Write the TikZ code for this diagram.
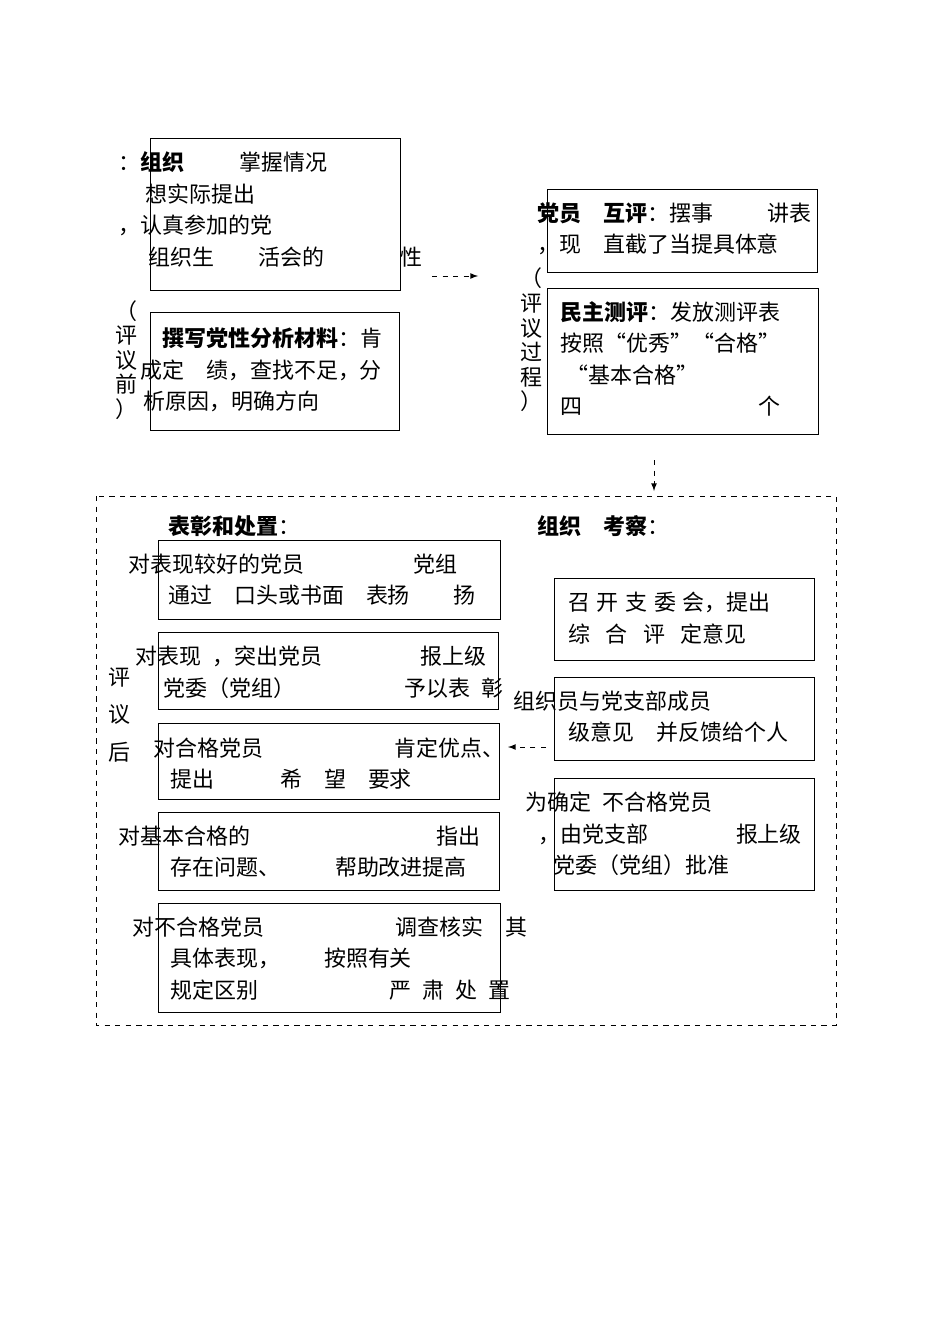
\documentclass[tikz,border=0pt]{standalone}
\usepackage{fontspec}
\newfontfamily\cjk{Noto Sans CJK SC}
\begin{document}
\begin{tikzpicture}[x=0.02cm,y=-0.02cm,
  bx/.style={draw,line width=0.6pt},
  tx/.style={anchor=west,inner sep=0pt,font=\cjk\fontsize{12.5pt}{14pt}\selectfont},
  dsh/.style={draw,dashed,line width=0.5pt,-latex}]
\useasboundingbox (0,0) rectangle (950,1344);
% boxes
\node[bx,minimum width=250*0.02cm,minimum height=152*0.02cm,anchor=north west] (A) at (150,138) {};
\node[bx,minimum width=249*0.02cm,minimum height=118*0.02cm,anchor=north west] (B) at (150,312) {};
\node[bx,minimum width=270*0.02cm,minimum height=83*0.02cm,anchor=north west] (C) at (547,189) {};
\node[bx,minimum width=271*0.02cm,minimum height=146*0.02cm,anchor=north west] (D) at (547,288) {};
\draw[dashed,line width=0.5pt] (96,496) rectangle (836,1025);
\node[bx,minimum width=342*0.02cm,minimum height=79*0.02cm,anchor=north west] (L1) at (158,540) {};
\node[bx,minimum width=340*0.02cm,minimum height=77*0.02cm,anchor=north west] (L2) at (158,632) {};
\node[bx,minimum width=341*0.02cm,minimum height=76*0.02cm,anchor=north west] (L3) at (158,723) {};
\node[bx,minimum width=341*0.02cm,minimum height=78*0.02cm,anchor=north west] (L4) at (158,812) {};
\node[bx,minimum width=342*0.02cm,minimum height=109*0.02cm,anchor=north west] (L5) at (158,903) {};
\node[bx,minimum width=260*0.02cm,minimum height=82*0.02cm,anchor=north west] (R1) at (554,578) {};
\node[bx,minimum width=260*0.02cm,minimum height=83*0.02cm,anchor=north west] (R2) at (554,677) {};
\node[bx,minimum width=260*0.02cm,minimum height=112*0.02cm,anchor=north west] (R3) at (554,778) {};
% arrows
\coordinate (a1) at (432,276); \coordinate (a2) at (478,276);
\draw[dsh] (a1) -- (a2);
\coordinate (b1) at (654,460); \coordinate (b2) at (654,491);
\draw[dsh] (b1) -- (b2);
\coordinate (c1) at (546,747); \coordinate (c2) at (508,747);
\draw[dsh] (c1) -- (c2);
% texts top-left
\node[tx] (t1) at (118,162) {：\textbf{组织}\hspace{2.5em}掌握情况};
\node[tx] (t2) at (145,194) {想实际提出};
\node[tx] (t3) at (118,225) {，认真参加的党};
\node[tx] (t4) at (148,257) {组织生\hspace{2em}活会的\hspace{3.5em}性};
\node[tx,align=center] (t5) at (115,360) {（\\评\\议\\前\\）};
\node[tx] (t6) at (162,338) {\textbf{撰写党性分析材料}：肯};
\node[tx] (t7) at (140,370) {成定\hspace{1em}绩，查找不足，分};
\node[tx] (t8) at (143,401) {析原因，明确方向};
% top right
\node[tx] (t9) at (537,213) {\textbf{党员\hspace{1em}互评}：摆事\hspace{2.5em}讲表};
\node[tx] (t10) at (537,244) {，现\hspace{1em}直截了当提具体意};
\node[tx,align=center] (t11) at (520,340) {（\\评\\议\\过\\程\\）};
\node[tx] (t12) at (560,312) {\textbf{民主测评}：发放测评表};
\node[tx] (t13) at (560,343) {按照“优秀”“合格”};
\node[tx] (t14) at (540,375) {\hspace{1.2em}“基本合格”};
\node[tx] (t15) at (560,406) {四\hspace{8em}个};
% bottom
\node[tx] (t16) at (168,526) {\textbf{表彰和处置}：};
\node[tx] (t17) at (537,526) {\textbf{组织}\hspace{1em}\textbf{考察}：};
\node[tx] (t18) at (128,564) {对表现较好的党员\hspace{5em}党组};
\node[tx] (t19) at (168,595) {通过\hspace{1em}口头或书面\hspace{1em}表扬\hspace{2em}扬};
\node[tx] (t20) at (135,656) {对表现\hspace{0.5em}，突出党员\hspace{4.5em}报上级};
\node[tx] (t21) at (163,688) {党委（党组）\hspace{5em}予以表\hspace{0.5em}彰};
\node[tx,align=center] (t22) at (108,715) {评\\[0.6em]议\\[0.6em]后};
\node[tx] (t23) at (153,748) {对合格党员\hspace{6em}肯定优点、};
\node[tx] (t24) at (170,779) {提出\hspace{3em}希\hspace{1em}望\hspace{1em}要求};
\node[tx] (t25) at (118,836) {对基本合格的\hspace{8.5em}指出};
\node[tx] (t26) at (170,867) {存在问题、\hspace{2.5em}帮助改进提高};
\node[tx] (t27) at (132,927) {对不合格党员\hspace{6em}调查核实\hspace{1em}其};
\node[tx] (t28) at (170,958) {具体表现，\hspace{2em}按照有关};
\node[tx] (t29) at (170,990) {规定区别\hspace{6em}严\hspace{0.5em}肃\hspace{0.5em}处\hspace{0.5em}置};
\node[tx] (t30) at (568,602) {召\hspace{0.3em}开\hspace{0.3em}支\hspace{0.3em}委\hspace{0.3em}会，提出};
\node[tx] (t31) at (568,634) {综\hspace{0.7em}合\hspace{0.7em}评\hspace{0.7em}定意见};
\node[tx] (t32) at (513,701) {组织员与党支部成员};
\node[tx] (t33) at (568,732) {级意见\hspace{1em}并反馈给个人};
\node[tx] (t34) at (525,802) {为确定\hspace{0.5em}不合格党员};
\node[tx] (t35) at (538,834) {，由党支部\hspace{4em}报上级};
\node[tx] (t36) at (553,865) {党委（党组）批准};
\end{tikzpicture}
\end{document}
